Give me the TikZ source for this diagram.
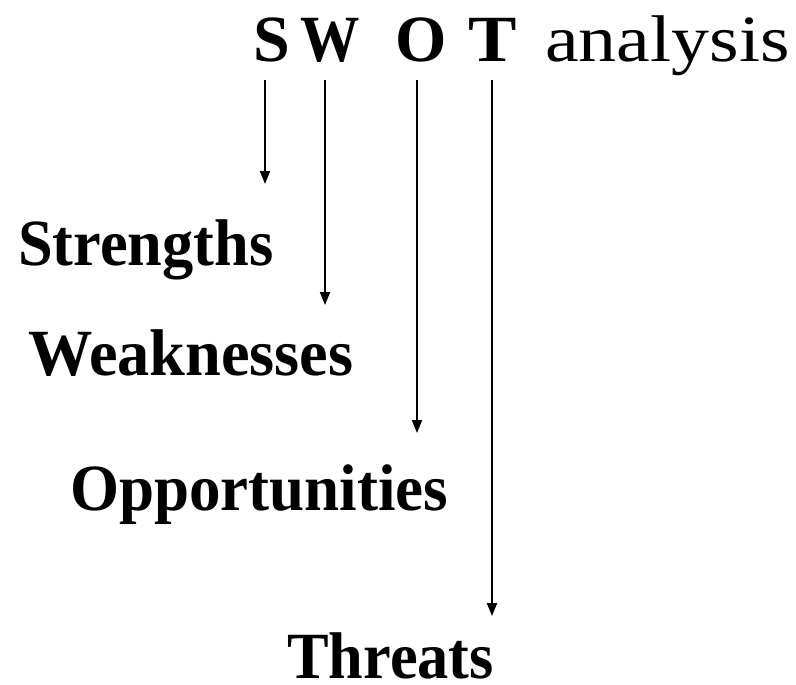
\documentclass[tikz,border=0pt]{standalone}
\usepackage{fontspec}
\usepackage{graphicx}
\setmainfont{Liberation Serif}
\usetikzlibrary{arrows.meta}
\newcommand{\squeeze}[2]{\scalebox{#1}[1]{#2}}

\begin{document}
\begin{tikzpicture}[x=1pt, y=-1pt,
  >={Triangle[length=13pt, width=10pt]},
  word/.style={anchor=base west, inner sep=0pt, font=\fontsize{66}{70}\selectfont\bfseries},
  letter/.style={word},
  link/.style={->, line width=2pt, shorten <=18pt}]
  \useasboundingbox (0, 0) rectangle (796, 685);

  % title letters
  \node[letter] (s) at (253, 62) {S};
  \node[letter] (w) at (300, 62) {\squeeze{0.9}{W}};
  \node[letter] (o) at (395, 62) {O};
  \node[letter] (t) at (468, 62) {\squeeze{1.1}{T}};
  \node[word, font=\fontsize{66}{70}\selectfont] (title) at (545, 62) {\squeeze{1.15}{analysis}};

  % the four words
  \node[word] (strengths) at (18, 265) {\squeeze{0.945}{Strengths}};
  \node[word] (weaknesses) at (28, 375) {\squeeze{0.975}{Weaknesses}};
  \node[word] (opportunities) at (70, 510) {\squeeze{0.955}{Opportunities}};
  \node[word] (threats) at (287, 678) {\squeeze{0.945}{Threats}};

  % arrow tips
  \coordinate (sEnd) at (265, 184);
  \coordinate (wEnd) at (325, 305);
  \coordinate (oEnd) at (417, 433);
  \coordinate (tEnd) at (492, 616);

  \draw[link] (s.base -| sEnd) -- (sEnd);
  \draw[link] (w.base -| wEnd) -- (wEnd);
  \draw[link] (o.base -| oEnd) -- (oEnd);
  \draw[link] (t.base -| tEnd) -- (tEnd);
\end{tikzpicture}
\end{document}
